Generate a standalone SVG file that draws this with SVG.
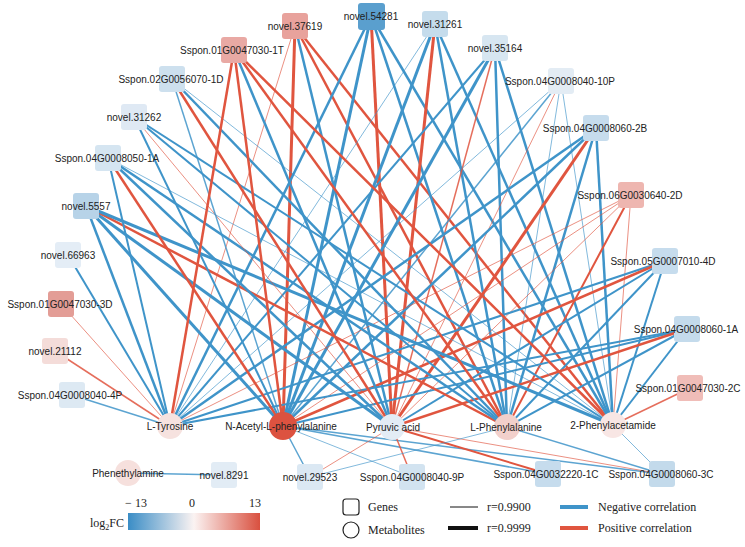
<svg xmlns="http://www.w3.org/2000/svg" width="745" height="547" viewBox="0 0 745 547">
<defs>
<linearGradient id="lfc" x1="0" x2="1" y1="0" y2="0">
<stop offset="0" stop-color="#3a8dc6"/>
<stop offset="0.5" stop-color="#fbf3f2"/>
<stop offset="1" stop-color="#d9503f"/>
</linearGradient>
</defs>
<style>
.n{stroke:#3f94c9;fill:none}
.p{stroke:#e0553f;fill:none}
.w1{stroke-width:1;stroke-opacity:.65}
.w15{stroke-width:1.5;stroke-opacity:.85}
.w2{stroke-width:2}
.w25{stroke-width:2.5}
.w3{stroke-width:3}
.gene rect{stroke:none}
text{font-family:"Liberation Sans",Arial,sans-serif;font-size:10px;fill:#222;text-anchor:middle}
.leg{font-family:"Liberation Serif","Times New Roman",serif;font-size:12px;text-anchor:start}
</style>
<rect width="745" height="547" fill="#fff"/>
<g id="connectors">
<!-- novel.37619 -->
<line class="p w1" x1="295" y1="26" x2="170" y2="426"/>
<line class="p w3" x1="295" y1="26" x2="283" y2="426"/>
<line class="n w25" x1="295" y1="26" x2="392" y2="427"/>
<line class="p w25" x1="295" y1="26" x2="507" y2="427"/>
<line class="p w25" x1="295" y1="26" x2="613" y2="425"/>
<!-- novel.54281 -->
<line class="n w25" x1="371" y1="16" x2="170" y2="426"/>
<line class="n w3" x1="371" y1="16" x2="283" y2="426"/>
<line class="p w3" x1="371" y1="16" x2="392" y2="427"/>
<line class="n w25" x1="371" y1="16" x2="507" y2="427"/>
<line class="n w25" x1="371" y1="16" x2="613" y2="425"/>
<!-- novel.31261 -->
<line class="n w1" x1="435" y1="24" x2="170" y2="426"/>
<line class="n w3" x1="435" y1="24" x2="283" y2="426"/>
<line class="p w3" x1="435" y1="24" x2="392" y2="427"/>
<line class="n w25" x1="435" y1="24" x2="507" y2="427"/>
<line class="n w25" x1="435" y1="24" x2="613" y2="425"/>
<!-- novel.35164 -->
<line class="n w2" x1="495" y1="48" x2="170" y2="426"/>
<line class="n w3" x1="495" y1="48" x2="283" y2="426"/>
<line class="p w15" x1="495" y1="48" x2="392" y2="427"/>
<line class="n w25" x1="495" y1="48" x2="507" y2="427"/>
<line class="n w25" x1="495" y1="48" x2="613" y2="425"/>
<!-- 10P -->
<line class="n w1" x1="561" y1="81" x2="170" y2="426"/>
<line class="n w15" x1="561" y1="81" x2="283" y2="426"/>
<line class="p w1" x1="561" y1="81" x2="392" y2="427"/>
<line class="n w1" x1="561" y1="81" x2="507" y2="427"/>
<line class="n w1" x1="561" y1="81" x2="613" y2="425"/>
<!-- 2B -->
<line class="n w25" x1="596" y1="128" x2="170" y2="426"/>
<line class="n w25" x1="596" y1="128" x2="283" y2="426"/>
<line class="p w3" x1="596" y1="128" x2="392" y2="427"/>
<line class="n w25" x1="596" y1="128" x2="507" y2="427"/>
<line class="n w25" x1="596" y1="128" x2="613" y2="425"/>
<!-- 2D -->
<line class="p w1" x1="631" y1="195" x2="170" y2="426"/>
<line class="p w1" x1="631" y1="195" x2="283" y2="426"/>
<line class="p w1" x1="631" y1="195" x2="392" y2="427"/>
<line class="p w2" x1="631" y1="195" x2="507" y2="427"/>
<line class="p w1" x1="631" y1="195" x2="613" y2="425"/>
<!-- 4D -->
<line class="n w2" x1="665" y1="261" x2="170" y2="426"/>
<line class="p w25" x1="665" y1="261" x2="283" y2="426"/>
<line class="n w2" x1="665" y1="261" x2="392" y2="427"/>
<line class="n w2" x1="665" y1="261" x2="507" y2="427"/>
<line class="n w2" x1="665" y1="261" x2="613" y2="425"/>
<!-- 1A -->
<line class="n w2" x1="687" y1="329" x2="170" y2="426"/>
<line class="n w2" x1="687" y1="329" x2="283" y2="426"/>
<line class="p w25" x1="687" y1="329" x2="392" y2="427"/>
<line class="n w2" x1="687" y1="329" x2="507" y2="427"/>
<line class="n w2" x1="687" y1="329" x2="613" y2="425"/>
<!-- 2C -->
<line class="p w15" x1="690" y1="388" x2="613" y2="425"/>
<!-- 3C -->
<line class="n w15" x1="662" y1="474" x2="283" y2="426"/>
<line class="p w1" x1="662" y1="474" x2="392" y2="427"/>
<line class="n w15" x1="662" y1="474" x2="507" y2="427"/>
<line class="n w1" x1="662" y1="474" x2="613" y2="425"/>
<!-- 1C -->
<line class="n w15" x1="548" y1="474" x2="283" y2="426"/>
<line class="p w2" x1="548" y1="474" x2="392" y2="427"/>
<!-- 9P -->
<line class="n w1" x1="412" y1="477" x2="283" y2="426"/>
<line class="p w15" x1="412" y1="477" x2="392" y2="427"/>
<!-- 29523 -->
<line class="n w15" x1="310" y1="477" x2="283" y2="426"/>
<line class="p w1" x1="310" y1="477" x2="392" y2="427"/>
<line class="n w1" x1="310" y1="477" x2="507" y2="427"/>
<!-- 8291 -->
<line class="n w15" x1="224" y1="475" x2="128" y2="473"/>
<!-- left -->
<line class="n w15" x1="72" y1="395" x2="170" y2="426"/>
<line class="p w15" x1="55" y1="351" x2="170" y2="426"/>
<line class="p w1" x1="61" y1="304" x2="170" y2="426"/>
<line class="n w2" x1="68" y1="255" x2="170" y2="426"/>
<!-- 5557 -->
<line class="n w25" x1="86" y1="206" x2="170" y2="426"/>
<line class="n w3" x1="86" y1="206" x2="283" y2="426"/>
<line class="n w3" x1="86" y1="206" x2="392" y2="427"/>
<line class="p w25" x1="86" y1="206" x2="507" y2="427"/>
<line class="n w3" x1="86" y1="206" x2="613" y2="425"/>
<!-- 8050-1A -->
<line class="n w2" x1="108" y1="158" x2="170" y2="426"/>
<line class="p w25" x1="108" y1="158" x2="283" y2="426"/>
<line class="n w25" x1="108" y1="158" x2="392" y2="427"/>
<line class="n w25" x1="108" y1="158" x2="507" y2="427"/>
<line class="n w1" x1="108" y1="158" x2="613" y2="425"/>
<!-- 31262 -->
<line class="n w2" x1="134" y1="117" x2="283" y2="426"/>
<line class="p w1" x1="134" y1="117" x2="392" y2="427"/>
<line class="n w2" x1="134" y1="117" x2="507" y2="427"/>
<line class="n w2" x1="134" y1="117" x2="613" y2="425"/>
<!-- 1D -->
<line class="n w15" x1="172" y1="79" x2="283" y2="426"/>
<line class="p w25" x1="172" y1="79" x2="392" y2="427"/>
<line class="n w25" x1="172" y1="79" x2="507" y2="427"/>
<line class="n w1" x1="172" y1="79" x2="613" y2="425"/>
<!-- 1T -->
<line class="p w25" x1="234" y1="50" x2="170" y2="426"/>
<line class="p w25" x1="234" y1="50" x2="283" y2="426"/>
<line class="n w25" x1="234" y1="50" x2="392" y2="427"/>
<line class="p w25" x1="234" y1="50" x2="507" y2="427"/>
<line class="p w25" x1="234" y1="50" x2="613" y2="425"/>
</g>

<g id="n-37619" class="gene"><rect x="282" y="13" width="26" height="26" rx="3" fill="#e8a29c"/><text x="295" y="30">novel.37619</text></g>
<g id="n-54281" class="gene"><rect x="358" y="3" width="27" height="27" rx="3" fill="#5a9fce"/><text x="371" y="20">novel.54281</text></g>
<g id="n-31261" class="gene"><rect x="422" y="11" width="26" height="26" rx="3" fill="#c5dcec"/><text x="435" y="28">novel.31261</text></g>
<g id="n-35164" class="gene"><rect x="482" y="35" width="26" height="26" rx="3" fill="#d7e6f1"/><text x="495" y="52">novel.35164</text></g>
<g id="n-10P" class="gene"><rect x="548" y="68" width="26" height="26" rx="3" fill="#e3ecf4"/><text x="560" y="85">Sspon.04G0008040-10P</text></g>
<g id="n-2B" class="gene"><rect x="583" y="115" width="26" height="26" rx="3" fill="#c6dced"/><text x="595" y="132">Sspon.04G0008060-2B</text></g>
<g id="n-2D" class="gene"><rect x="618" y="182" width="26" height="26" rx="3" fill="#eeb6b0"/><text x="630" y="199">Sspon.06G0030640-2D</text></g>
<g id="n-4D" class="gene"><rect x="652" y="248" width="26" height="26" rx="3" fill="#c6dced"/><text x="663" y="265">Sspon.05G0007010-4D</text></g>
<g id="n-1A" class="gene"><rect x="674" y="316" width="26" height="26" rx="3" fill="#c4dbec"/><text x="686" y="333">Sspon.04G0008060-1A</text></g>
<g id="n-2C" class="gene"><rect x="677" y="375" width="26" height="26" rx="3" fill="#f0bdb8"/><text x="688" y="392">Sspon.01G0047030-2C</text></g>
<g id="n-3C" class="gene"><rect x="649" y="461" width="26" height="26" rx="3" fill="#c3daeb"/><text x="661" y="478">Sspon.04G0008060-3C</text></g>
<g id="n-1C" class="gene"><rect x="535" y="461" width="26" height="26" rx="3" fill="#c6dced"/><text x="546" y="478">Sspon.04G0032220-1C</text></g>
<g id="n-9P" class="gene"><rect x="399" y="464" width="26" height="26" rx="3" fill="#d2e3f0"/><text x="412" y="481">Sspon.04G0008040-9P</text></g>
<g id="n-29523" class="gene"><rect x="297" y="464" width="26" height="26" rx="3" fill="#dbe8f3"/><text x="310" y="481">novel.29523</text></g>
<g id="n-8291" class="gene"><rect x="211" y="462" width="26" height="26" rx="3" fill="#e2ecf5"/><text x="224" y="479">novel.8291</text></g>
<g id="n-4P" class="gene"><rect x="59" y="382" width="26" height="26" rx="3" fill="#dde9f3"/><text x="70" y="399">Sspon.04G0008040-4P</text></g>
<g id="n-21112" class="gene"><rect x="42" y="338" width="26" height="26" rx="3" fill="#f4dcd9"/><text x="55" y="355">novel.21112</text></g>
<g id="n-3D" class="gene"><rect x="48" y="291" width="26" height="26" rx="3" fill="#e39d96"/><text x="60" y="308">Sspon.01G0047030-3D</text></g>
<g id="n-66963" class="gene"><rect x="55" y="242" width="26" height="26" rx="3" fill="#e4edf6"/><text x="68" y="259">novel.66963</text></g>
<g id="n-5557" class="gene"><rect x="73" y="193" width="26" height="26" rx="3" fill="#b7d3e8"/><text x="86" y="210">novel.5557</text></g>
<g id="n-8050" class="gene"><rect x="95" y="145" width="26" height="26" rx="3" fill="#d5e5f1"/><text x="107" y="162">Sspon.04G0008050-1A</text></g>
<g id="n-31262" class="gene"><rect x="121" y="104" width="26" height="26" rx="3" fill="#dfe9f4"/><text x="134" y="121">novel.31262</text></g>
<g id="n-1D" class="gene"><rect x="159" y="66" width="26" height="26" rx="3" fill="#cde0ee"/><text x="171" y="83">Sspon.02G0056070-1D</text></g>
<g id="n-1T" class="gene"><rect x="221" y="37" width="26" height="26" rx="3" fill="#e9a9a4"/><text x="232" y="54">Sspon.01G0047030-1T</text></g>

<g id="m-tyr"><circle cx="170" cy="426" r="13" fill="#f6e2df"/><text x="170" y="430">L-Tyrosine</text></g>
<g id="m-nac"><circle cx="283" cy="426" r="14" fill="#dc5240"/><text x="281" y="430">N-Acetyl-L-phenylalanine</text></g>
<g id="m-pyr"><circle cx="392" cy="427" r="13" fill="#e3ecf5"/><text x="393" y="431">Pyruvic acid</text></g>
<g id="m-phe"><circle cx="507" cy="427" r="13" fill="#f2d0cb"/><text x="506" y="431">L-Phenylalanine</text></g>
<g id="m-pac"><circle cx="613" cy="425" r="13" fill="#f8e6e4"/><text x="613" y="429">2-Phenylacetamide</text></g>
<g id="m-pea"><circle cx="128" cy="473" r="13" fill="#f6e0dd"/><text x="128" y="477">Phenethylamine</text></g>

<g id="legend">
<rect x="128" y="513" width="132" height="17" fill="url(#lfc)"/>
<text class="leg" x="136" y="507" style="text-anchor:middle">− 13</text>
<text class="leg" x="192" y="507" style="text-anchor:middle">0</text>
<text class="leg" x="255" y="507" style="text-anchor:middle">13</text>
<text class="leg" x="90" y="527">log<tspan font-size="8" dy="3">2</tspan><tspan dy="-3">FC</tspan></text>
<rect x="343" y="499" width="16" height="16" rx="3" fill="none" stroke="#222" stroke-width="1.2"/>
<circle cx="351" cy="530" r="8" fill="none" stroke="#222" stroke-width="1.2"/>
<text class="leg" x="368" y="511">Genes</text>
<text class="leg" x="368" y="534">Metabolites</text>
<line x1="450" y1="507" x2="478" y2="507" stroke="#111" stroke-width="1"/>
<line x1="448" y1="528" x2="478" y2="528" stroke="#111" stroke-width="4"/>
<text class="leg" x="487" y="511">r=0.9900</text>
<text class="leg" x="487" y="532">r=0.9999</text>
<line x1="560" y1="507" x2="588" y2="507" stroke="#3f94c9" stroke-width="4"/>
<line x1="560" y1="528" x2="588" y2="528" stroke="#e0553f" stroke-width="4"/>
<text class="leg" x="598" y="511">Negative correlation</text>
<text class="leg" x="598" y="532">Positive correlation</text>
</g>
</svg>
